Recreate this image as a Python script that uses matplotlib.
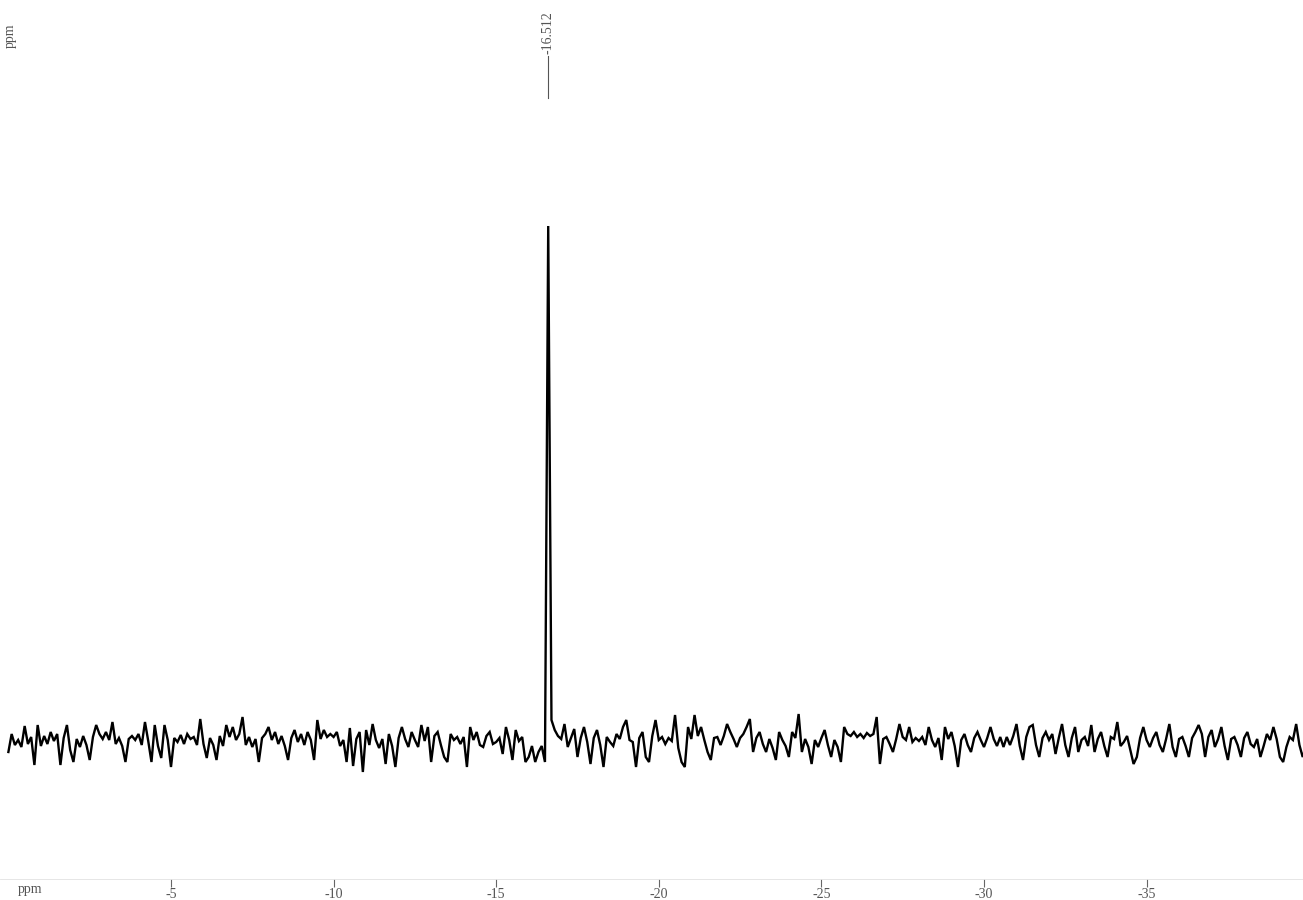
import numpy as np
import matplotlib
matplotlib.use('Agg')
import matplotlib.pyplot as plt

plt.rcParams['font.family'] = ['Liberation Serif', 'DejaVu Serif']

# chemical shift grid, 0.0 .. -39.9 ppm in 0.1 ppm steps
ppm_start = 0.0
ppm_step = -0.1

# intensity (peak at -16.6 ppm)
intensity = [
    -10, 8, -3, 2, -5, 16, -2, 5, -23, 17,
    -4, 6, -2, 10, 1, 8, -23, 4, 17, -8,
    -20, 3, -5, 6, -3, -18, 5, 17, 8, 3,
    10, 2, 20, -2, 4, -4, -20, 3, 6, 2,
    8, -3, 20, 1, -20, 17, -4, -16, 17, 2,
    -25, 4, 0, 7, -2, 8, 3, 5, -3, 23,
    -2, -16, 4, -3, -18, 6, -4, 17, 5, 15,
    2, 8, 25, -3, 5, -5, 3, -20, 4, 8,
    15, 2, 10, -2, 6, -4, -18, 4, 12, 0,
    8, -3, 10, 2, -18, 22, 3, 12, 5, 8,
    5, 10, -4, 2, -20, 14, -24, 3, 10, -30,
    12, -3, 18, 2, -6, 3, -22, 8, -4, -25,
    4, 15, 3, -5, 10, 2, -5, 17, 1, 15,
    -20, 6, 10, -3, -15, -20, 8, 2, 5, -2,
    5, -25, 15, 2, 10, -3, -5, 6, 10, -2,
    0, 4, -12, 15, 2, -18, 12, 1, 5, -20,
    -15, -4, -20, -10, -4, -20, 516, 22, 12, 6,
    3, 18, -5, 4, 13, -15, 4, 15, 0, -22,
    4, 12, -3, -25, 5, 0, -4, 8, 3, 15,
    22, 2, 0, -25, 4, 10, -15, -20, 6, 22,
    2, 5, -2, 4, 1, 27, -6, -20, -25, 15,
    3, 27, 6, 15, 2, -10, -18, 4, 5, -3,
    6, 18, 10, 3, -5, 4, 8, 15, 23, -10,
    4, 10, -2, -10, 3, -6, -18, 10, 2, -4,
    -15, 10, 4, 28, -10, 3, -5, -22, 2, -5,
    4, 12, -3, -15, 2, -5, -20, 15, 8, 6,
    10, 5, 8, 4, 9, 6, 8, 25, -22, 3,
    5, -2, -10, 3, 18, 5, 2, 15, 0, 4,
    1, 5, -3, 15, 2, -5, 4, -18, 15, 3,
    10, -4, -25, 2, 8, -3, -10, 4, 10, 2,
    -5, 4, 15, 3, -4, 5, -5, 5, -3, 6,
    18, -4, -18, 5, 15, 17, -3, -15, 4, 10,
    2, 8, -12, 4, 18, -3, -15, 4, 15, -10,
    2, 5, -4, 17, -10, 3, 10, -4, -15, 5,
    3, 20, -4, 0, 6, -8, -22, -15, 4, 15,
    2, -5, 4, 10, -3, -10, 3, 18, -5, -15,
    3, 5, -4, -15, 4, 10, 17, 8, -15, 5,
    12, -5, 3, 15, -4, -18, 3, 5, -3, -15,
    4, 10, -2, -5, 3, -15, -4, 8, 2, 15,
    3, -15, -20, -5, 5, 2, 18, -3, -15, -5,
]
ppm = ppm_start + ppm_step * np.arange(len(intensity))

peak_ppm = -16.6
peak_label = '-16.512'
tick_values = [-5, -10, -15, -20, -25, -30, -35]
tick_labels = ['-5', '-10', '-15', '-20', '-25', '-30', '-35']

xlim = (0.258, -39.81)

fig = plt.figure(figsize=(13.03, 9.0), dpi=100)
ax = fig.add_axes([0, 0, 1, 1])
ax.plot(ppm, intensity, color='black', lw=1.7, solid_joinstyle='miter')
ax.set_xlim(*xlim)
ax.set_ylim(-158, 742)
ax.axis('off')

# peak pick label
ax.plot([peak_ppm, peak_ppm], [644, 686], color='#555555', lw=0.8)
ax.text(peak_ppm, 688, peak_label, rotation=90, ha='center', va='bottom',
        fontsize=10, color='#555555')

# ppm scale at the bottom
sax = fig.add_axes([0, 13 / 900, 1, 8 / 900])
sax.set_xlim(*xlim)
sax.set_ylim(0, 1)
sax.patch.set_visible(False)
for side in ['left', 'right', 'bottom']:
    sax.spines[side].set_visible(False)
sax.spines['top'].set_color('#e2e2e2')
sax.spines['top'].set_linewidth(0.6)
sax.set_yticks([])
sax.set_xticks(tick_values)
sax.set_xticklabels(tick_labels)
sax.tick_params(axis='x', direction='in', length=6, width=0.8, color='#666666',
                pad=1, labelsize=10, labelcolor='#555555')

fig.text(0.014, 0.004, 'ppm', fontsize=10, color='#555555', ha='left', va='bottom')
fig.text(0.003, 0.96, 'ppm', fontsize=10, color='#555555', rotation=90,
         ha='left', va='center')

fig.savefig('out.png', dpi=100)
